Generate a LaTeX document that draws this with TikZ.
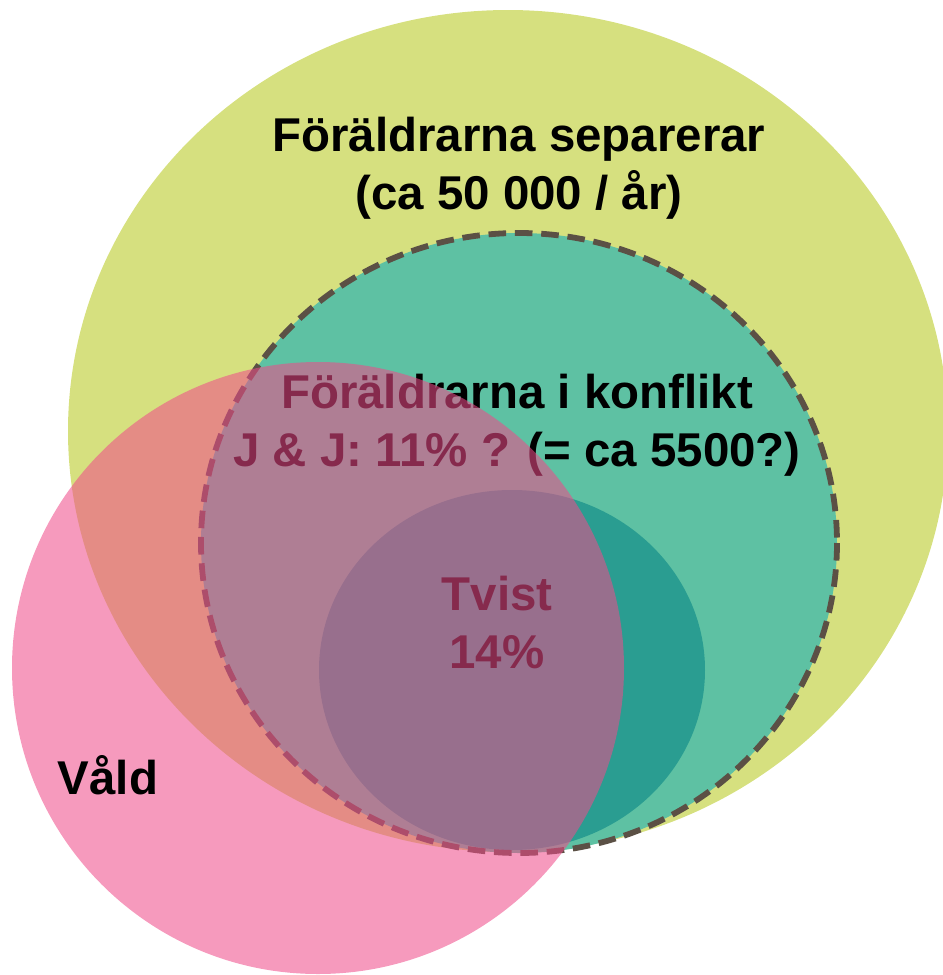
\documentclass[tikz,border=0pt]{standalone}
\usepackage{fontspec}
\setmainfont{Liberation Sans}
\definecolor{sepgreen}{RGB}{214,224,127}
\definecolor{konfteal}{RGB}{94,193,163}
\definecolor{tvistteal}{RGB}{42,157,145}
\definecolor{valdpink}{RGB}{239,75,138}
\definecolor{dashbrown}{RGB}{91,80,69}
\tikzset{label text/.style={font=\bfseries\fontsize{27}{33}\selectfont, align=center, inner sep=0pt}}

\begin{document}
\begin{tikzpicture}[x=0.02cm, y=-0.02cm]
  \useasboundingbox (0,0) rectangle (943,975);
  \clip (0,0) rectangle (943,975);
  % the sets, from the largest down: 
  \fill [sepgreen] (508,431) ellipse [x radius=440, y radius=421];
  \fill [konfteal] (519,543) ellipse [x radius=318, y radius=310];
  \fill [tvistteal] (512,670) ellipse [x radius=193, y radius=180];
  \draw [dashbrown, line width=3.3pt, dash pattern=on 10pt off 5pt]
    (519,543) ellipse [x radius=318, y radius=310];
  % texts under the pink circle: 
  \node [label text] (separerar) at (519,168) {Föräldrarna separerar\\(ca 50 000 / år)};
  \node [label text] (konflikt) at (517,425) {Föräldrarna i konflikt\\J \& J: 11\% ? (= ca 5500?)};
  \node [label text] (tvist) at (497,622) {Tvist\\14\%};
  % violence on top, see-through: 
  \fill [valdpink, fill opacity=0.56] (318,668) circle [radius=306];
  \node [label text] (vald) at (108,775) {Våld};
\end{tikzpicture}
\end{document}
